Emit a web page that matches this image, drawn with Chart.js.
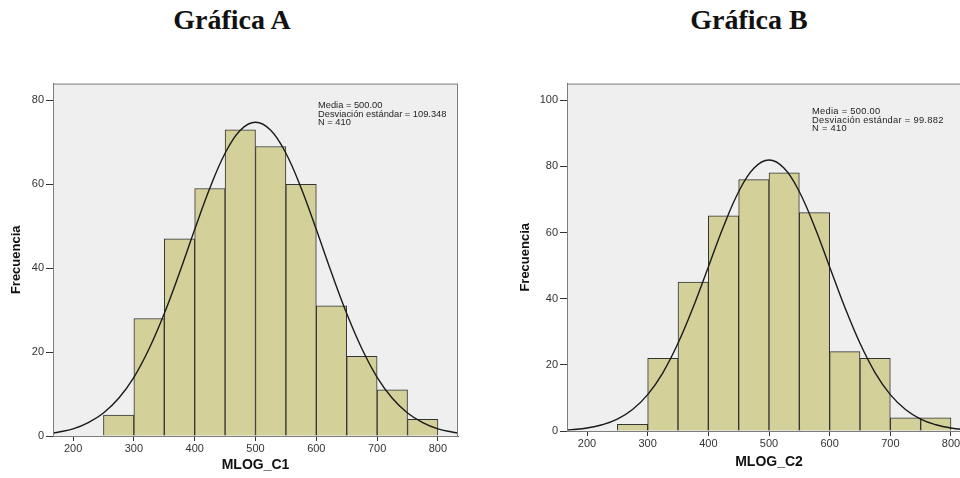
<!DOCTYPE html>
<html>
<head>
<meta charset="utf-8">
<script src="https://cdn.jsdelivr.net/npm/chart.js@4.4.1/dist/chart.umd.min.js"></script>
<style>
  body { margin: 0; width: 960px; height: 478px; overflow: hidden; background: #fff; position: relative; font-family: Arial, "Liberation Sans", sans-serif; }
  .title { position: absolute; top: 4px; font: bold 28px "Liberation Serif", "Times New Roman", serif; transform: translateX(-50%); white-space: nowrap; color: #111; }
  .box { position: absolute; top: 75px; }
  .stats { position: absolute; font-size: 9.3px; line-height: 8.6px; color: #1e1e1e; white-space: pre; }
</style>
</head>
<body>
<div class="title" style="left:232px">Gráfica A</div>
<div class="title" style="left:749px">Gráfica B</div>

<div class="box" style="left:0"><canvas id="chartA" width="470" height="403"></canvas></div>
<div class="box" style="left:480px"><canvas id="chartB" width="505" height="403"></canvas></div>

<div class="stats" style="left:318px;top:101px">Media = 500.00
Desviación estándar = 109.348
N = 410</div>
<div class="stats" style="left:812px;top:107px;letter-spacing:0.3px">Media = 500.00
Desviación estándar = 99.882
N = 410</div>

<script>
// bin centres (bin width 50) and counts
const binCentres = [275, 325, 375, 425, 475, 525, 575, 625, 675, 725, 775];
const countsA = [5, 28, 47, 59, 73, 69, 60, 31, 19, 11, 4];
const countsB = [2, 22, 45, 65, 76, 78, 66, 24, 22, 4, 4];

// normal curve, points
const curveX = [167, 175, 200, 225, 250, 275, 300, 325, 350, 375, 400, 425, 450, 475, 500,
                525, 550, 575, 600, 625, 650, 675, 700, 725, 750, 775, 800, 825, 833];
const curveA = [0.7, 0.9, 1.7, 3.2, 5.5, 9.0, 14.0, 20.8, 29.2, 38.9, 49.2, 59.1, 67.4, 72.9, 74.8,
                72.9, 67.4, 59.1, 49.2, 38.9, 29.2, 20.8, 14.0, 9.0, 5.5, 3.2, 1.7, 0.9, 0.7];
const curveB = [0.3, 0.4, 0.9, 1.9, 3.6, 6.5, 11.0, 17.6, 26.5, 37.4, 49.6, 61.8, 72.3, 79.4, 81.9,
                79.4, 72.3, 61.8, 49.6, 37.4, 26.5, 17.6, 11.0, 6.5, 3.6, 1.9, 0.9, 0.4, 0.3];

const xTicks = [200, 300, 400, 500, 600, 700, 800];
const yTicksA = [0, 20, 40, 60, 80];
const yTicksB = [0, 20, 40, 60, 80, 100];

// grey plot background + frame
const plotFrame = {
  id: 'plotFrame',
  beforeDraw(chart) {
    const { ctx, chartArea: a } = chart;
    ctx.save();
    ctx.fillStyle = '#efefef';
    ctx.fillRect(a.left, a.top, a.right - a.left, a.bottom - a.top);
    ctx.restore();
  },
  afterDraw(chart) {
    const { ctx, chartArea: a } = chart;
    ctx.save();
    ctx.strokeStyle = '#7d7d7d';
    ctx.lineWidth = 1;
    ctx.strokeRect(a.left + 0.5, a.top + 0.5, a.right - a.left - 1, a.bottom - a.top);
    ctx.restore();
  }
};

function buildHistogram(id, counts, curve, cfg) {
  const ctx = document.getElementById(id).getContext('2d');
  return new Chart(ctx, {
    type: 'bar',
    data: {
      datasets: [
        {
          type: 'line',
          data: curveX.map((x, i) => ({ x, y: curve[i] })),
          borderColor: '#1a1a1a',
          borderWidth: 1.4,
          pointRadius: 0,
          tension: 0.4,
          fill: false,
          order: 0
        },
        {
          type: 'bar',
          data: binCentres.map((x, i) => ({ x, y: counts[i] })),
          backgroundColor: '#d4d09a',
          borderColor: '#333',
          borderWidth: 1,
          barPercentage: 1,
          categoryPercentage: 1,
          order: 1
        }
      ]
    },
    options: {
      responsive: false,
      animation: false,
      layout: { padding: cfg.padding },
      plugins: { legend: { display: false }, tooltip: { enabled: false } },
      scales: {
        x: {
          type: 'linear',
          min: 167, max: 833,
          offset: false,
          afterBuildTicks: s => { s.ticks = xTicks.map(v => ({ value: v })); },
          afterFit: s => { s.height = cfg.xHeight; },
          grid: { drawOnChartArea: false, offset: false, tickLength: 5, color: '#333' },
          border: { color: '#555' },
          ticks: { padding: 1, color: '#333', font: { family: 'Arial', size: 11 }, maxRotation: 0 },
          title: { display: true, text: cfg.xTitle, color: '#111', font: { family: 'Arial', size: 14, weight: 'bold' } }
        },
        y: {
          min: 0, max: cfg.yMax,
          afterBuildTicks: s => { s.ticks = cfg.yTicks.map(v => ({ value: v })); },
          afterFit: s => { s.width = cfg.yWidth; },
          grid: { drawOnChartArea: false, tickLength: 7, color: '#333' },
          border: { color: '#555' },
          ticks: { padding: 2, color: '#333', font: { family: 'Arial', size: 11 } },
          title: { display: true, text: 'Frecuencia', color: '#111', font: { family: 'Arial', size: 13, weight: 'bold' } }
        }
      }
    },
    plugins: [plotFrame]
  });
}

buildHistogram('chartA', countsA, curveA, {
  padding: { left: 5, top: 8, right: 12, bottom: 0 },
  xHeight: 42, yWidth: 48, yMax: 84, yTicks: yTicksA, xTitle: 'MLOG_C1'
});
buildHistogram('chartB', countsB, curveB, {
  padding: { left: 34, top: 7, right: 14, bottom: 3 },
  xHeight: 44, yWidth: 53, yMax: 105, yTicks: yTicksB, xTitle: 'MLOG_C2'
});
</script>
</body>
</html>
